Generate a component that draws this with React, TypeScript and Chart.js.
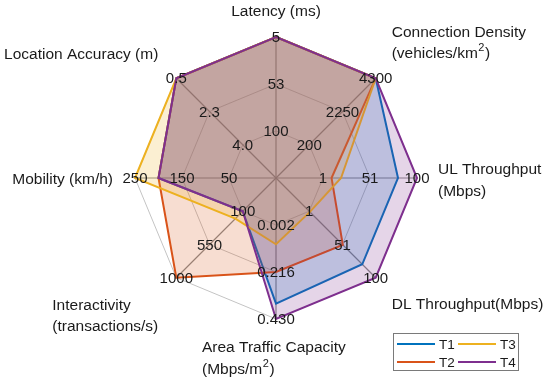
import React, { useEffect, useRef } from 'react';
import { Chart, registerables } from 'chart.js';

Chart.register(...registerables);

// ---------- data ----------
const axisNames: string[][] = [
  ['Latency (ms)'],
  ['Connection Density', '(vehicles/km²)'],
  ['UL Throughput', '(Mbps)'],
  ['DL Throughput(Mbps)'],
  ['Area Traffic Capacity', '(Mbps/m²)'],
  ['Interactivity', '(transactions/s)'],
  ['Mobility (km/h)'],
  ['Location Accuracy (m)'],
];

// value shown at ring 1, ring 2, ring 3 of every axis
const innerTicks = [100, 200, 1, 1, 0.002, 100, 50, 4.0];
const midTicks = [53, 2250, 51, 51, 0.216, 550, 150, 2.3];
const outerTicks = [5, 4300, 100, 100, 0.43, 1000, 250, 0.5];
const innerTickLabels = ['100', '200', '1', '1', '0.002', '100', '50', '4.0'];
const midTickLabels = ['53', '2250', '51', '51', '0.216', '550', '150', '2.3'];
const outerTickLabels = ['5', '4300', '100', '100', '0.430', '1000', '250', '0.5'];

const seriesNames = ['T1', 'T2', 'T3', 'T4'];
const t1Values = [5, 4300, 80, 80, 0.36, 100, 200, 0.5];
const t2Values = [5, 4300, 10, 51, 0.216, 1000, 200, 0.5];
const t3Values = [5, 4300, 20, 2, 0.09, 200, 250, 0.5];
const t4Values = [5, 4300, 100, 100, 0.43, 100, 200, 0.5];

// ---------- styles ----------
const lineColors = ['#0072BD', '#D95319', '#EDB120', '#7E2F8E'];
const fillColors = [
  'rgba(0,114,189,0.2)',
  'rgba(217,83,25,0.2)',
  'rgba(237,177,32,0.2)',
  'rgba(126,47,142,0.2)',
];
const FONT = 'Arial, "Liberation Sans", Helvetica, sans-serif';
const TEXT_COLOR = '#1a1a1a';

// label placement relative to the outer vertex of each axis
const labelPlacement = [
  { align: 'center', dx: 0, dy: -25 },
  { align: 'left', dx: 16, dy: -46 },
  { align: 'left', dx: 21, dy: -8 },
  { align: 'left', dx: 16, dy: 27 },
  { align: 'left', dx: -74, dy: 29 },
  { align: 'left', dx: -124, dy: 28 },
  { align: 'right', dx: -22, dy: 2 },
  { align: 'right', dx: -18, dy: -24 },
];
const LABEL_LINE = 21.5;

// ring position: ring 1 = inner tick, ring 3 = outer tick
const toRing = (v: number, i: number) =>
  1 + (2 * (v - innerTicks[i])) / (outerTicks[i] - innerTicks[i]);

const allSeries = [t1Values, t2Values, t3Values, t4Values];

function drawLine(ctx: CanvasRenderingContext2D, text: string, x: number, y: number, align: string) {
  const idx = text.indexOf('²');
  if (idx < 0) {
    ctx.textAlign = align as CanvasTextAlign;
    ctx.fillText(text, x, y);
    return;
  }
  const before = text.slice(0, idx);
  const after = text.slice(idx + 1);
  ctx.textAlign = 'left';
  ctx.fillText(before, x, y);
  const w1 = ctx.measureText(before).width;
  const mainFont = ctx.font;
  ctx.font = `11px ${FONT}`;
  ctx.fillText('2', x + w1 + 0.5, y - 6);
  const w2 = ctx.measureText('2').width;
  ctx.font = mainFont;
  ctx.fillText(after, x + w1 + w2 + 1, y);
}

const overlayPlugin = {
  id: 'overlay',
  afterDatasetsDraw(chart: any) {
    const ctx = chart.ctx;
    const scale = chart.scales.r;
    ctx.save();
    // tick labels
    ctx.font = `15px ${FONT}`;
    ctx.fillStyle = TEXT_COLOR;
    ctx.textAlign = 'center';
    ctx.textBaseline = 'middle';
    const tickSets = [innerTickLabels, midTickLabels, outerTickLabels];
    for (let i = 0; i < axisNames.length; i++) {
      tickSets.forEach((set, k) => {
        const p = scale.getPointPosition(i, scale.getDistanceFromCenterForValue(k + 1));
        ctx.fillText(set[i], p.x, p.y + 1);
      });
    }
    // axis names
    ctx.font = `15.5px ${FONT}`;
    for (let i = 0; i < axisNames.length; i++) {
      const p = scale.getPointPosition(i, scale.drawingArea);
      const pl = labelPlacement[i];
      axisNames[i].forEach((line, j) => {
        drawLine(ctx, line, p.x + pl.dx, p.y + pl.dy + j * LABEL_LINE, pl.align);
      });
    }
    // legend
    const W = chart.width;
    const H = chart.height;
    const bx = W - 157, by = H - 49, bw = 125, bh = 37;
    ctx.fillStyle = '#fff';
    ctx.fillRect(bx, by, bw, bh);
    ctx.strokeStyle = '#7a7a7a';
    ctx.lineWidth = 1;
    ctx.strokeRect(bx + 0.5, by + 0.5, bw, bh);
    ctx.font = `13.5px ${FONT}`;
    ctx.textAlign = 'left';
    const cols = [[0, 1], [2, 3]];
    cols.forEach((col, c) => {
      col.forEach((si, r) => {
        const lx = bx + 4 + c * 61;
        const ly = by + 11 + r * 18;
        ctx.strokeStyle = lineColors[si];
        ctx.lineWidth = 2;
        ctx.beginPath();
        ctx.moveTo(lx, ly);
        ctx.lineTo(lx + 38, ly);
        ctx.stroke();
        ctx.fillStyle = TEXT_COLOR;
        ctx.fillText(seriesNames[si], lx + 42, ly + 1);
      });
    });
    ctx.restore();
  },
};

export default function App() {
  const canvasRef = useRef<HTMLCanvasElement | null>(null);

  useEffect(() => {
    if (!canvasRef.current) return;
    const chart = new Chart(canvasRef.current, {
      type: 'radar',
      data: {
        labels: axisNames.map((a) => a.join(' ')),
        datasets: allSeries.map((vals, s) => ({
          label: seriesNames[s],
          data: vals.map((v, i) => toRing(v, i)),
          borderColor: lineColors[s],
          backgroundColor: fillColors[s],
          borderWidth: 2,
          fill: true,
          pointRadius: 0,
          pointHoverRadius: 0,
          tension: 0,
          order: 4 - s,
        })),
      },
      options: {
        animation: false,
        responsive: true,
        maintainAspectRatio: false,
        layout: { padding: { left: 135, right: 133, top: 37, bottom: 63 } },
        plugins: { legend: { display: false }, tooltip: { enabled: false } },
        scales: {
          r: {
            min: 0,
            max: 3,
            ticks: { display: false, stepSize: 1 },
            pointLabels: { display: false },
            grid: { color: '#c4c4c4', lineWidth: 1, circular: false },
            angleLines: { color: '#8a8a8a', lineWidth: 1.2 },
          },
        },
      },
      plugins: [overlayPlugin],
    });
    return () => chart.destroy();
  }, []);

  return (
    <div style={{ position: 'fixed', left: 0, top: 0, width: 550, height: 382, background: '#fff' }}>
      <canvas ref={canvasRef} />
    </div>
  );
}
